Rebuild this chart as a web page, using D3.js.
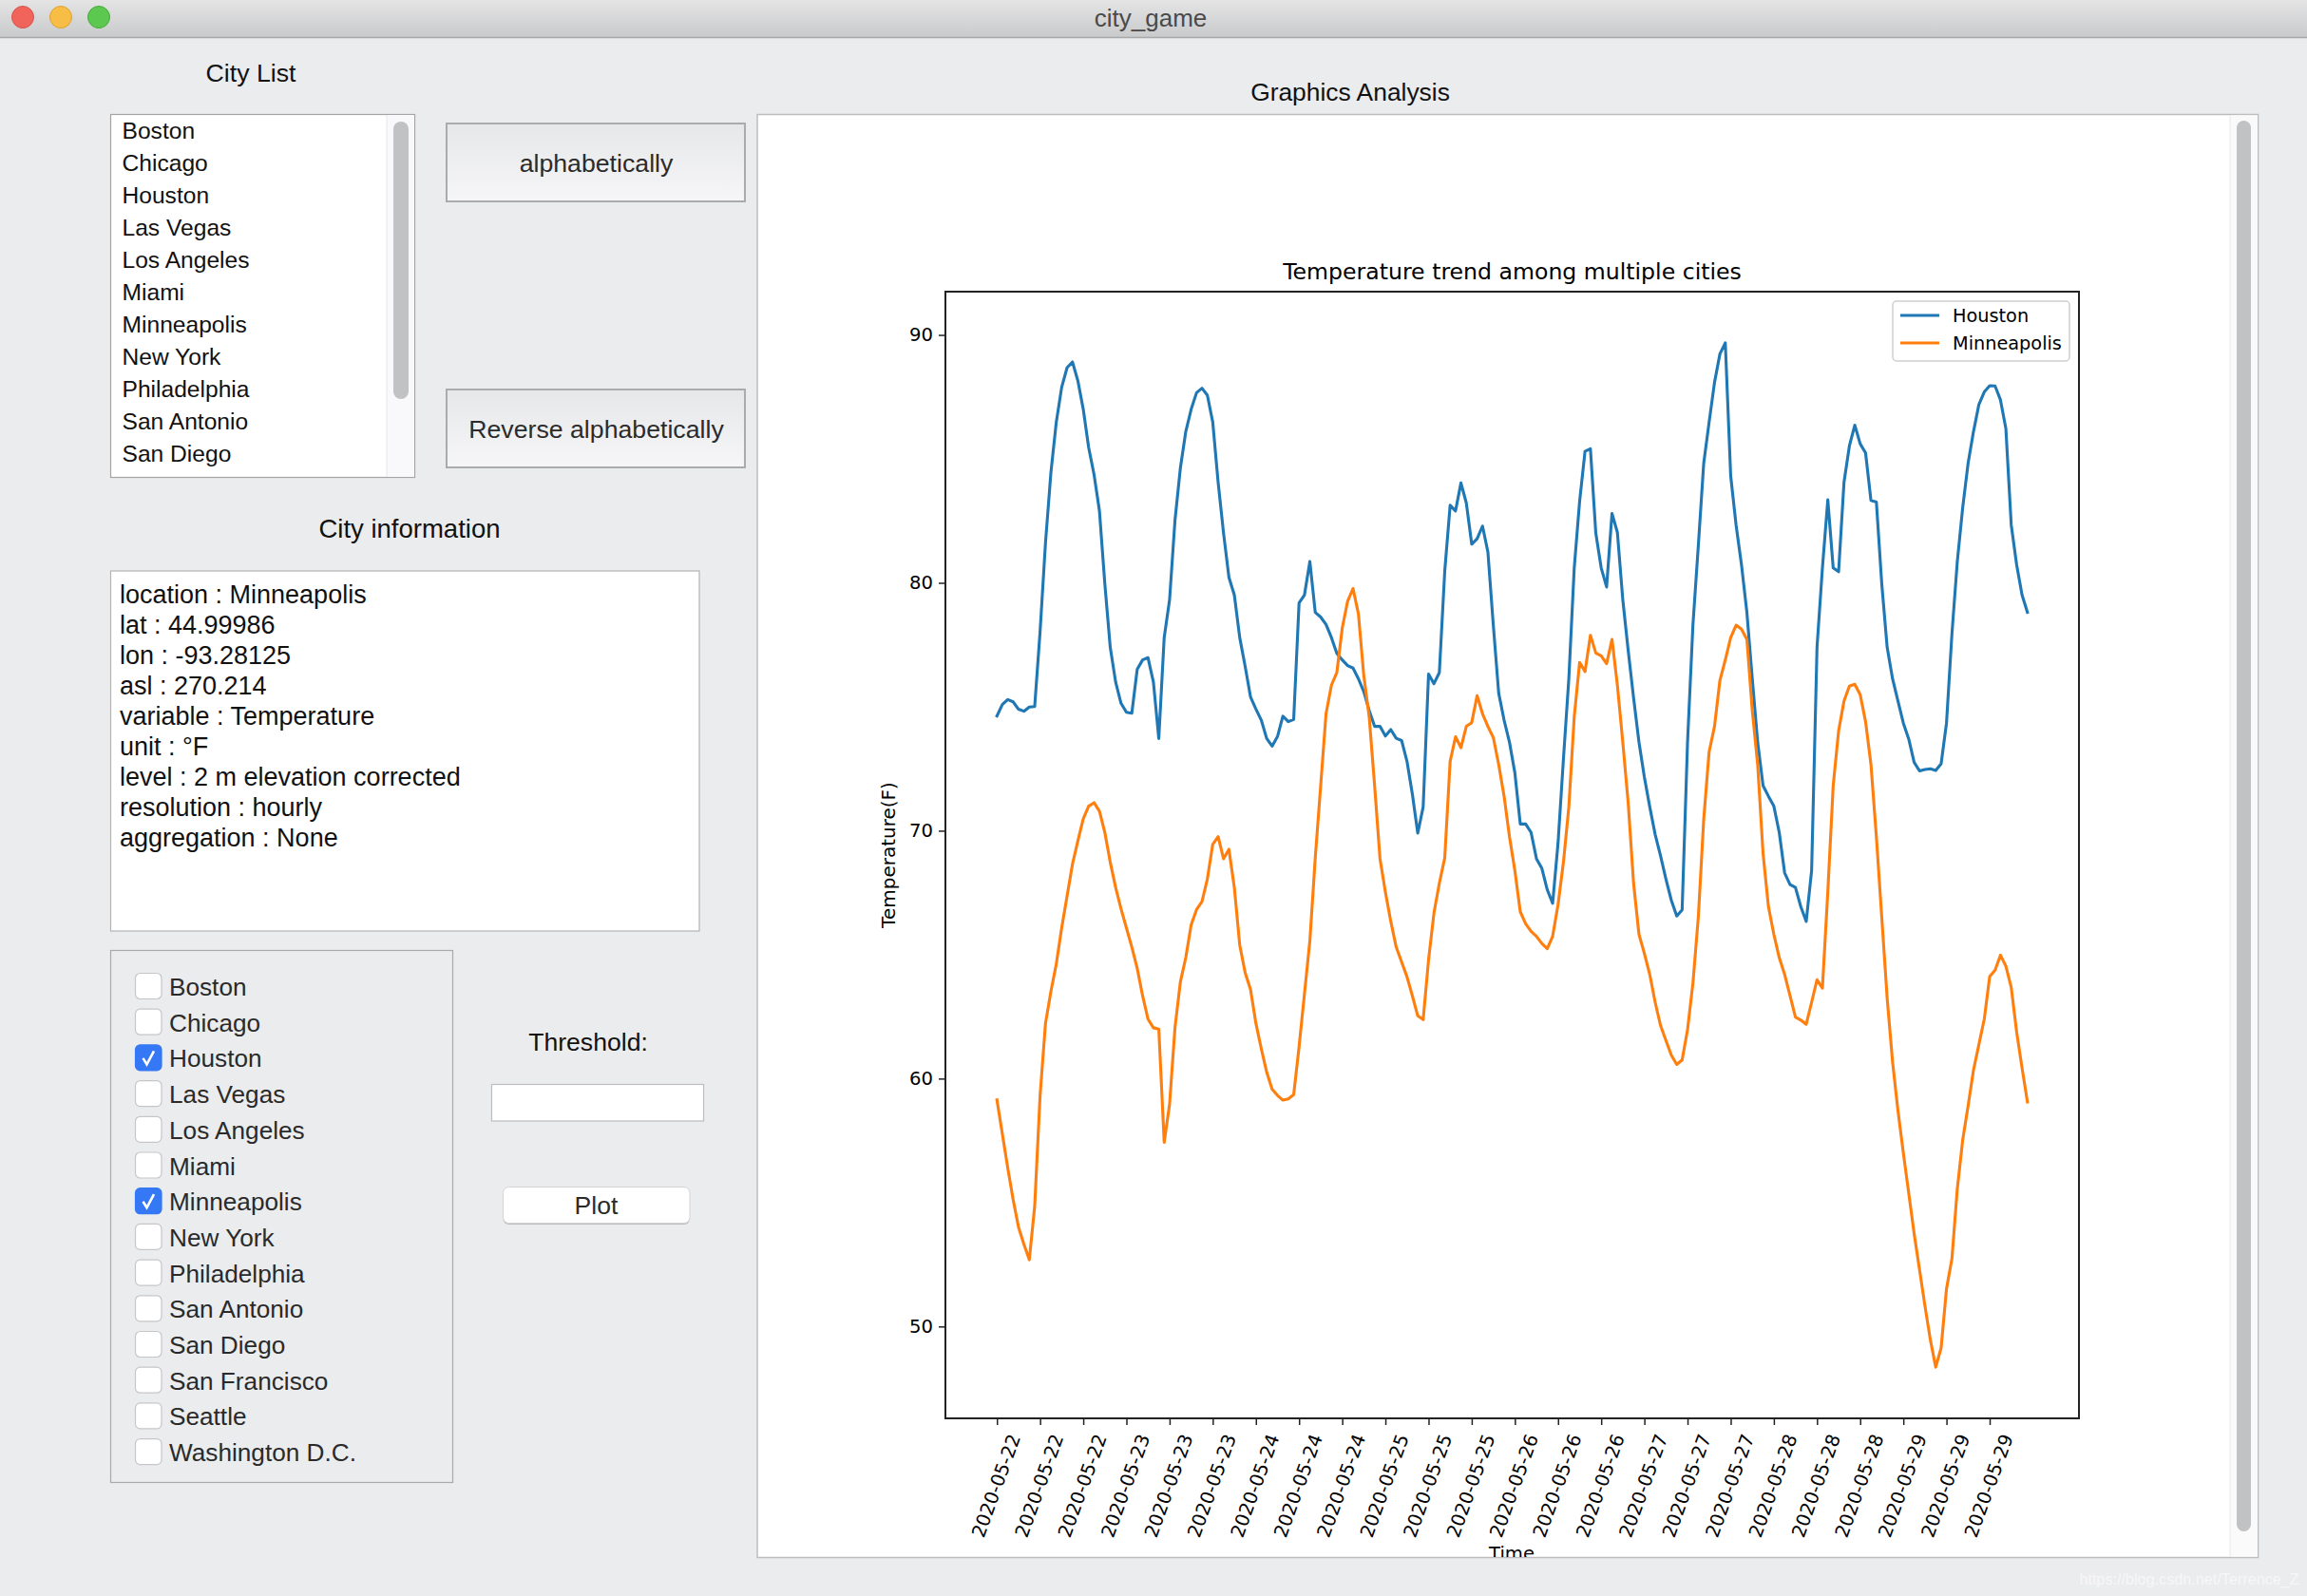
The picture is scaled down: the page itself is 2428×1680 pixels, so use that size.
<!DOCTYPE html>
<html>
<head>
<meta charset="utf-8">
<title>city_game</title>
<script src="https://cdnjs.cloudflare.com/ajax/libs/d3/7.8.5/d3.min.js"></script>
<style>
  html, body { margin: 0; padding: 0; background: #ebecee; }
  svg { display: block; }
  .ui { font-family: "Liberation Sans", Arial, sans-serif; fill: #111; }
  .mpl { font-family: "DejaVu Sans", sans-serif; fill: #000; }
</style>
</head>
<body>
<svg id="app" width="2428" height="1680"></svg>
<script>
// hourly temperature (F), 2020-05-22 to 2020-05-29
const houston = [
  74.63,75.09,75.29,75.2,74.9,74.82,74.99,75.01,
  78.04,81.62,84.44,86.48,87.89,88.68,88.91,88.15,
  87,85.46,84.37,82.9,79.96,77.4,76,75.14,
  74.78,74.74,76.51,76.89,76.98,76,73.72,77.79,
  79.32,82.52,84.63,86.1,87,87.67,87.85,87.57,
  86.48,84.05,82.01,80.22,79.51,77.79,76.64,75.4,
  74.91,74.46,73.72,73.41,73.8,74.62,74.4,74.49,
  79.19,79.51,80.86,78.81,78.62,78.32,77.79,77.15,
  76.89,76.66,76.56,76.13,75.61,74.85,74.21,74.21,
  73.82,74.08,73.73,73.64,72.8,71.47,69.9,70.96,
  76.32,75.93,76.38,80.47,83.13,82.9,84.03,83.22,
  81.56,81.78,82.29,81.24,78.3,75.55,74.46,73.57,
  72.33,70.27,70.27,69.93,68.87,68.48,67.62,67.07,
  69.5,72.9,76.13,80.6,83.29,85.3,85.41,82,
  80.6,79.83,82.8,82.03,79.32,77.28,75.36,73.57,
  72.16,70.96,69.85,68.99,68.05,67.19,66.56,66.81,
  73.57,78.3,81.5,84.82,86.48,88.08,89.23,89.68,
  84.31,82.33,80.73,78.81,76.13,73.57,71.82,71.39,
  70.99,69.93,68.3,67.83,67.71,66.93,66.34,68.39,
  77.4,80.6,83.35,80.6,80.45,84.05,85.52,86.36,
  85.61,85.24,83.32,83.26,79.96,77.4,76.13,75.23,
  74.34,73.7,72.76,72.41,72.47,72.5,72.43,72.7,
  74.34,77.92,80.86,83.03,84.82,86.1,87.19,87.7,
  87.95,87.94,87.38,86.23,82.33,80.73,79.51,78.81
];
const minneapolis = [
  59.14,57.77,56.4,55.12,54.01,53.32,52.69,54.86,
  59.32,62.23,63.51,64.62,66.08,67.36,68.65,69.59,
  70.48,70.99,71.13,70.79,69.93,68.73,67.71,66.85,
  66.08,65.31,64.45,63.34,62.4,62.05,62,57.43,
  58.97,62.05,63.9,64.88,66.2,66.82,67.14,68.05,
  69.45,69.76,68.87,69.25,67.71,65.39,64.28,63.6,
  62.23,61.2,60.26,59.57,59.32,59.13,59.18,59.35,
  61.28,63.42,65.56,68.9,71.8,74.72,75.87,76.38,
  78.17,79.26,79.77,78.75,76.25,74.59,71.82,68.87,
  67.53,66.34,65.31,64.71,64.11,63.34,62.53,62.38,
  64.79,66.68,67.88,68.9,72.8,73.79,73.35,74.21,
  74.36,75.45,74.72,74.21,73.76,72.67,71.39,69.76,
  68.39,66.73,66.25,65.94,65.74,65.45,65.24,65.74,
  67.02,68.73,70.96,74.59,76.79,76.42,77.88,77.17,
  77.05,76.74,77.72,75.87,73.57,71.13,67.88,65.82,
  65.05,64.2,63.08,62.14,61.54,60.94,60.57,60.75,
  61.97,63.85,66.51,70.45,73.18,74.21,76.06,76.89,
  77.79,78.29,78.13,77.72,74.85,72.67,69.08,66.93,
  65.82,64.88,64.2,63.34,62.48,62.36,62.19,63.08,
  63.99,63.65,67.53,71.82,74.02,75.23,75.83,75.91,
  75.49,74.4,72.67,69.76,66.51,63.25,60.68,58.71,
  57,55.38,53.75,52.29,50.84,49.47,48.36,49.13,
  51.52,52.72,55.55,57.52,58.89,60.34,61.37,62.4,
  64.11,64.37,64.98,64.54,63.68,61.88,60.43,59.06
];
const tickHours = [0,8,16,24,32,40,48,56,64,72,80,88,96,104,112,120,128,136,144,152,160,168,176,184];
const tickLabels = [
  "2020-05-22","2020-05-22","2020-05-22","2020-05-23","2020-05-23","2020-05-23",
  "2020-05-24","2020-05-24","2020-05-24","2020-05-25","2020-05-25","2020-05-25",
  "2020-05-26","2020-05-26","2020-05-26","2020-05-27","2020-05-27","2020-05-27",
  "2020-05-28","2020-05-28","2020-05-28","2020-05-29","2020-05-29","2020-05-29"
];
const yTicks = [50, 60, 70, 80, 90];
const seriesNames = ["Houston", "Minneapolis"];
const seriesColors = ["#1f77b4", "#ff7f0e"];

const listCities = ["Boston","Chicago","Houston","Las Vegas","Los Angeles","Miami","Minneapolis","New York","Philadelphia","San Antonio","San Diego"];
const checkCities = ["Boston","Chicago","Houston","Las Vegas","Los Angeles","Miami","Minneapolis","New York","Philadelphia","San Antonio","San Diego","San Francisco","Seattle","Washington D.C."];
const infoLines = [
  "location : Minneapolis","lat : 44.99986","lon : -93.28125","asl : 270.214","variable : Temperature",
  "unit : °F","level : 2 m elevation corrected","resolution : hourly","aggregation : None"
];

const svg = d3.select("#app");

const defs = svg.append("defs");
const grad = (id, c0, c1) => {
  const g = defs.append("linearGradient").attr("id", id).attr("x1", 0).attr("x2", 0).attr("y1", 0).attr("y2", 1);
  g.append("stop").attr("offset", 0).attr("stop-color", c0);
  g.append("stop").attr("offset", 1).attr("stop-color", c1);
};
grad("titlebar", "#e4e4e5", "#c9cacb");
grad("btn", "#e6e7e9", "#f6f6f8");
defs.append("clipPath").attr("id", "panelClip").append("rect")
  .attr("x", 798).attr("y", 121).attr("width", 1578).attr("height", 1518);

const label = (g, text, x, y, size, anchor, fill) => g.append("text")
  .attr("class", "ui").attr("x", x).attr("y", y)
  .attr("font-size", size).attr("text-anchor", anchor || "start")
  .style("fill", fill || "#111").text(text);

// window chrome
svg.append("rect").attr("width", 2428).attr("height", 39).attr("fill", "url(#titlebar)");
svg.append("line").attr("x1", 0).attr("x2", 2428).attr("y1", 39.5).attr("y2", 39.5).attr("stroke", "#a8a8a8").attr("stroke-width", 1.5);
svg.selectAll(".light").data([[24, "#f0645c", "#d9534c"], [64, "#f8bd45", "#dba232"], [104, "#5cc84f", "#47ab3d"]])
  .enter().append("circle").attr("class", "light")
  .attr("cx", d => d[0]).attr("cy", 18).attr("r", 11.5)
  .attr("fill", d => d[1]).attr("stroke", d => d[2]);
label(svg, "city_game", 1211, 28, 26, "middle", "#4a4a4a");

// city list
label(svg, "City List", 264, 86, 26.7, "middle");
svg.append("rect").attr("x", 116.5).attr("y", 120.5).attr("width", 320).attr("height", 382)
  .attr("fill", "#fff").attr("stroke", "#a4a4a4").attr("stroke-width", 1.2);
svg.append("rect").attr("x", 407).attr("y", 121).attr("width", 29).attr("height", 381).attr("fill", "#f9f9fb");
svg.append("line").attr("x1", 407).attr("x2", 407).attr("y1", 121).attr("y2", 502).attr("stroke", "#e6e6e8");
svg.append("rect").attr("x", 414).attr("y", 128).attr("width", 16).attr("height", 292).attr("rx", 8).attr("fill", "#c1c2c4");
svg.selectAll(".listItem").data(listCities).enter().append("text")
  .attr("class", "ui listItem").attr("x", 128.5).attr("y", (d, i) => 146 + 34 * i)
  .attr("font-size", 24.6).text(d => d);

// sort buttons
[["alphabetically", 130], ["Reverse alphabetically", 410]].forEach(d => {
  svg.append("rect").attr("x", 470).attr("y", d[1]).attr("width", 314).attr("height", 82)
    .attr("fill", "url(#btn)").attr("stroke", "#ababad").attr("stroke-width", 2);
  label(svg, d[0], 627.5, d[1] + 51, 26.7, "middle", "#2b2b2b");
});

// city information
label(svg, "City information", 431, 566, 27.5, "middle");
svg.append("rect").attr("x", 116.5).attr("y", 601).attr("width", 619.5).attr("height", 379)
  .attr("fill", "#fff").attr("stroke", "#b4b4b4").attr("stroke-width", 1.2);
svg.selectAll(".info").data(infoLines).enter().append("text")
  .attr("class", "ui info").attr("x", 126).attr("y", (d, i) => 635 + 32.05 * i)
  .attr("font-size", 27).text(d => d);

// checkbox panel
svg.append("rect").attr("x", 116.5).attr("y", 1000.5).attr("width", 360).attr("height", 560)
  .attr("fill", "#ebecee").attr("stroke", "#a9a9a9").attr("stroke-width", 1.2);
const row = svg.selectAll(".check").data(checkCities).enter().append("g")
  .attr("class", "check").attr("transform", (d, i) => `translate(0,${37.7 * i})`);
const checked = d => seriesNames.includes(d);
row.append("rect").attr("x", 142.5).attr("y", 1024.5).attr("width", 27.5).attr("height", 27).attr("rx", 5)
  .attr("fill", d => checked(d) ? "#3478f6" : "#fff")
  .attr("stroke", d => checked(d) ? "#3478f6" : "#c6c6c8").attr("stroke-width", 1.2);
row.filter(checked).append("path").attr("d", "M150.5 1038.5 L154.5 1045 L162 1031")
  .attr("fill", "none").attr("stroke", "#fff").attr("stroke-width", 2.6);
row.append("text").attr("class", "ui").attr("x", 178).attr("y", 1048)
  .attr("font-size", 26.2).style("fill", "#2a2a2a").text(d => d);

// threshold + plot
label(svg, "Threshold:", 619, 1106, 26.6, "middle");
svg.append("rect").attr("x", 517.5).attr("y", 1141.5).attr("width", 223).attr("height", 38.5)
  .attr("fill", "#fff").attr("stroke", "#bdbdbf").attr("stroke-width", 1.2);
svg.append("rect").attr("x", 529.5).attr("y", 1251).attr("width", 196.5).attr("height", 38).attr("rx", 6).attr("fill", "#bcbcbe");
svg.append("rect").attr("x", 529.5).attr("y", 1249.5).attr("width", 196.5).attr("height", 38).attr("rx", 6)
  .attr("fill", "#fff").attr("stroke", "#d4d4d6").attr("stroke-width", 1);
label(svg, "Plot", 627.5, 1277.5, 26.6, "middle", "#2b2b2b");

// figure panel
label(svg, "Graphics Analysis", 1421, 106, 26.4, "middle");
svg.append("rect").attr("x", 797).attr("y", 120.5).attr("width", 1579.5).attr("height", 1519)
  .attr("fill", "#fff").attr("stroke", "#bdbdbf").attr("stroke-width", 1.5);
svg.append("rect").attr("x", 2347).attr("y", 121.5).attr("width", 29).attr("height", 1517).attr("fill", "#fafafb");
svg.append("line").attr("x1", 2347).attr("x2", 2347).attr("y1", 121).attr("y2", 1639).attr("stroke", "#e8e8ea");
svg.append("rect").attr("x", 2354).attr("y", 127).attr("width", 15).attr("height", 1485).attr("rx", 7.5).attr("fill", "#c1c2c4");

// plot
const plot = {left: 995, right: 2188, top: 307, bottom: 1493};
const fig = svg.append("g").attr("clip-path", "url(#panelClip)");

const hours = d3.range(houston.length);
const xPad = d3.max(hours) * 0.05;
const allValues = houston.concat(minneapolis);
const yPad = (d3.max(allValues) - d3.min(allValues)) * 0.05;

const x = d3.scaleLinear().domain([-xPad, d3.max(hours) + xPad]).range([plot.left, plot.right]);
const y = d3.scaleLinear().domain([d3.min(allValues) - yPad, d3.max(allValues) + yPad]).range([plot.bottom, plot.top]);

const line = d3.line().x((d, i) => x(i)).y(d => y(d));

fig.selectAll(".series").data([houston, minneapolis]).enter().append("path")
  .attr("class", "series").attr("fill", "none")
  .attr("stroke", (d, i) => seriesColors[i]).attr("stroke-width", 3.1)
  .attr("stroke-linejoin", "round").attr("stroke-linecap", "square")
  .attr("d", line);

const xAxis = d3.axisBottom(x).tickValues(tickHours).tickFormat((d, i) => tickLabels[i]).tickSize(7).tickSizeOuter(0);
const yAxis = d3.axisLeft(y).tickValues(yTicks).tickSize(7).tickPadding(6).tickSizeOuter(0);

const gx = fig.append("g").attr("transform", `translate(0,${plot.bottom})`).call(xAxis);
const gy = fig.append("g").attr("transform", `translate(${plot.left},0)`).call(yAxis);
[gx, gy].forEach(g => {
  g.select(".domain").remove();
  g.selectAll("line").attr("stroke", "#222").attr("stroke-width", 1.5);
  g.selectAll("text").attr("class", "mpl").attr("font-size", 19.6).attr("font-family", "DejaVu Sans");
});
gx.selectAll("text")
  .attr("x", 0).attr("y", 0).attr("dy", "0.35em")
  .attr("text-anchor", "middle")
  .attr("transform", "translate(-1.5,71) rotate(-70)");

fig.append("rect").attr("x", plot.left).attr("y", plot.top).attr("width", plot.right - plot.left).attr("height", plot.bottom - plot.top)
  .attr("fill", "none").attr("stroke", "#222").attr("stroke-width", 2);

const mpl = (text, px, py, size, anchor) => fig.append("text")
  .attr("class", "mpl").attr("x", px).attr("y", py)
  .attr("font-size", size).attr("text-anchor", anchor || "middle").text(text);

mpl("Temperature trend among multiple cities", (plot.left + plot.right) / 2, 294, 23.6);
mpl("Time", 1591, 1642, 19.6);
mpl("Temperature(F)", 0, 0, 20).attr("transform", "translate(942,900) rotate(-90)");

// legend
const legend = fig.append("g");
legend.append("rect").attr("x", 1992).attr("y", 317).attr("width", 186).attr("height", 63).attr("rx", 4)
  .attr("fill", "#fff").attr("fill-opacity", 0.8).attr("stroke", "#cfcfcf").attr("stroke-width", 1.5);
seriesNames.forEach((name, i) => {
  legend.append("line").attr("x1", 2000).attr("x2", 2041).attr("y1", 332 + 29 * i).attr("y2", 332 + 29 * i)
    .attr("stroke", seriesColors[i]).attr("stroke-width", 3);
  mpl(name, 2055, 339 + 29 * i, 19.3, "start");
});

// watermark
label(svg, "https://blog.csdn.net/Terrence_Z", 2304, 1668, 16.2, "middle", "#f7f7f8");
</script>
</body>
</html>
